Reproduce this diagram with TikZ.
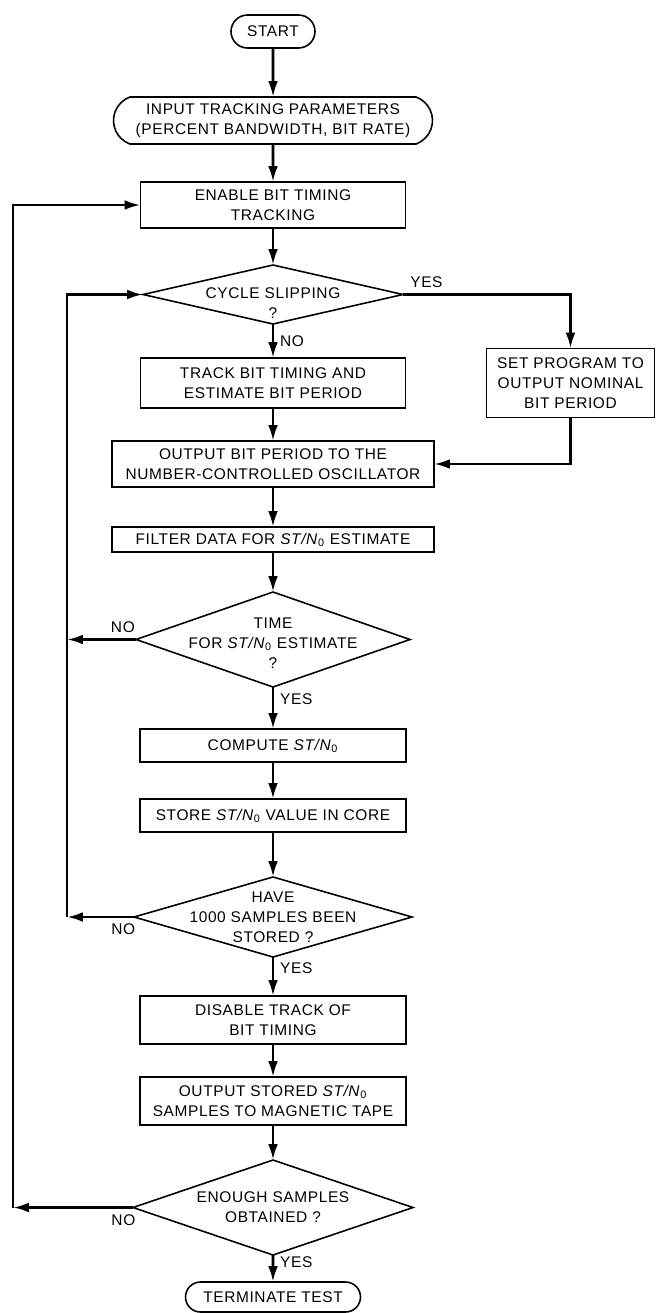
\documentclass[tikz,border=0pt]{standalone}
\usepackage{fontspec}
\setmainfont{Liberation Sans}[LetterSpace=4]
\usetikzlibrary{positioning}
\usetikzlibrary{arrows.meta}
\usetikzlibrary{shapes}
\newcommand{\stn}{\textit{ST/N}\textsubscript{0}}
\tikzset{
        flownode/.style={align=center,inner sep=0pt,outer sep=0pt,draw=black,line width=0.9pt},
        % Process boxes
        node_process/.style 2 args={flownode, rectangle, minimum width=#1, minimum height=#2},
        % Start and end
        node_terminal/.style 2 args={flownode, rounded rectangle, minimum width=#1, minimum height=#2},
        % Decisions (text goes in a centred label)
        node_decision/.style 2 args={flownode, diamond, minimum width=#1, minimum height=#2},
        every label/.style={align=center, inner sep=0pt}
}

\begin{document}
\begin{tikzpicture}[
            ->,
            >={Latex[length=9pt,width=5.5pt]},
            line width=1.5pt,
            every node/.style={font=\fontsize{8.8}{11.3}\selectfont}
        ]
            \useasboundingbox (0,0) rectangle (13.12,-26.26);

            \node[node_terminal={1.68cm}{0.66cm}] (start) at (5.46,-0.63) {START};
            \node[node_terminal={6.38cm}{0.94cm}, rounded rectangle arc length=140, below=0.98cm of start] (input)
                {INPUT TRACKING PARAMETERS\\(PERCENT BANDWIDTH, BIT RATE)};
            \node[node_process={5.30cm}{0.92cm}, below=0.76cm of input] (enable) {ENABLE BIT TIMING\\TRACKING};
            \node[node_decision={5.20cm}{1.18cm}, below=0.74cm of enable,
                label={[yshift=-0.18cm]center:CYCLE SLIPPING\\?}] (cycle) {};
            \node[node_process={5.30cm}{1.00cm}, below=0.68cm of cycle] (track) {TRACK BIT TIMING AND\\ESTIMATE BIT PERIOD};
            \node[node_process={3.36cm}{1.38cm}, right=1.62cm of track] (set) {SET PROGRAM TO\\OUTPUT NOMINAL\\BIT PERIOD};
            \node[node_process={6.44cm}{0.92cm}, below=0.66cm of track] (outbp)
                {OUTPUT BIT PERIOD TO THE\\NUMBER-CONTROLLED OSCILLATOR};
            \node[node_process={6.44cm}{0.50cm}, below=0.80cm of outbp] (filter) {FILTER DATA FOR \stn{} ESTIMATE};
            \node[node_decision={5.48cm}{1.90cm}, below=0.80cm of filter,
                label={[yshift=-0.08cm]center:TIME\\FOR \stn{} ESTIMATE\\?}] (time) {};
            \node[node_process={5.32cm}{0.66cm}, below=0.84cm of time] (compute) {COMPUTE \stn};
            \node[node_process={5.32cm}{0.66cm}, below=0.74cm of compute] (store) {STORE \stn{} VALUE IN CORE};
            \node[node_decision={5.56cm}{1.60cm}, below=0.90cm of store,
                label={center:HAVE\\1000 SAMPLES BEEN\\STORED ?}] (have) {};
            \node[node_process={5.32cm}{0.96cm}, below=0.78cm of have] (disable) {DISABLE TRACK OF\\BIT TIMING};
            \node[node_process={5.32cm}{0.96cm}, below=0.66cm of disable] (outstored)
                {OUTPUT STORED \stn\\SAMPLES TO MAGNETIC TAPE};
            \node[node_decision={5.60cm}{1.90cm}, below=0.70cm of outstored,
                label={center:ENOUGH SAMPLES\\OBTAINED ?}] (enough) {};
            \node[node_terminal={3.50cm}{0.60cm}, below=0.54cm of enough] (terminate) {TERMINATE TEST};

            % return rails on the left
            \coordinate (rail_outer) at (0.26,0);
            \coordinate (rail_inner) at (1.34,0);

            \draw (start) -- (input);
            \draw (input) -- (enable);
            \draw (enable) -- (cycle);
            \draw (cycle) -- node[right] {NO} (track);
            \draw (cycle.east) -| node[pos=0.07, above] {YES} (set.north);
            \draw (track) -- (outbp);
            \draw (set.south) |- (outbp.east);
            \draw (outbp) -- (filter);
            \draw (filter) -- (time);
            \draw (time) -- node[pos=0.3, right] {YES} (compute);
            \draw (time.west) -- node[pos=0.19, above] {NO} (time.west -| rail_inner);
            \draw (compute) -- (store);
            \draw (store) -- (have);
            \draw (have.west) -- node[pos=0.16, below] {NO} (have.west -| rail_inner);
            \draw (have.west -| rail_inner) |- (cycle.west);
            \draw (have) -- node[pos=0.28, right] {YES} (disable);
            \draw (disable) -- (outstored);
            \draw (outstored) -- (enough);
            \draw (enough) -- node[pos=0.25, right] {YES} (terminate);
            \draw (enough.west) -- node[pos=0.08, below] {NO} (enough.west -| rail_outer);
            \draw (enough.west -| rail_outer) |- (enable.west);
        \end{tikzpicture}
\end{document}
